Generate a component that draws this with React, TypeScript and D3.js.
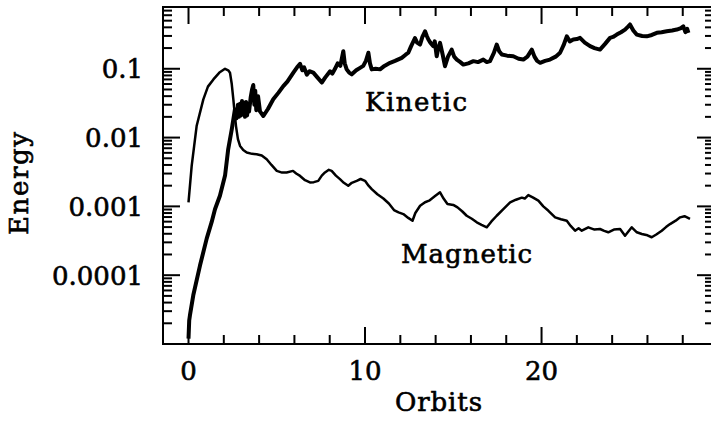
import React from "react";
import * as d3 from "d3";

const kineticOrbits = [0.0,0.04,0.08,0.27,0.65,1.03,1.31,1.5,1.78,2.07,2.25,2.45,2.63,2.72,2.8,2.86,2.92,2.98,3.03,3.09,3.14,3.2,3.26,3.32,3.37,3.43,3.52,3.6,3.67,3.73,3.78,3.84,3.94,4.05,4.24,4.5,4.8,5.1,5.37,5.6,5.94,6.15,6.32,6.45,6.55,6.7,6.85,7.07,7.3,7.55,7.75,8.02,8.15,8.3,8.45,8.6,8.77,8.85,8.96,9.1,9.25,9.5,9.72,9.9,10.05,10.19,10.28,10.38,10.6,10.85,11.1,11.42,11.7,12.08,12.3,12.45,12.6,12.83,12.95,13.12,13.25,13.4,13.5,13.59,13.7,13.87,13.95,14.06,14.15,14.25,14.4,14.53,14.7,14.91,15.05,15.2,15.4,15.57,15.85,16.14,16.4,16.7,16.9,17.08,17.3,17.46,17.6,17.75,18.05,18.4,18.7,18.97,19.2,19.45,19.6,19.75,19.92,20.2,20.48,20.8,21.05,21.25,21.43,21.6,21.8,22.0,22.18,22.45,22.75,23.0,23.31,23.6,23.88,24.05,24.26,24.5,24.73,24.9,25.01,25.2,25.39,25.7,25.96,26.25,26.53,26.8,27.09,27.4,27.66,27.9,28.03,28.15,28.25,28.32];
const kineticEnergy = [1.2e-5,2.2e-5,2.6e-5,5.1e-5,1.38e-4,3.4e-4,5.9e-4,9.1e-4,1.43e-3,2.8e-3,6.8e-3,0.0132,0.0257,0.019,0.03,0.02,0.031,0.021,0.034,0.022,0.032,0.02,0.033,0.021,0.03,0.024,0.038,0.05,0.058,0.03,0.048,0.025,0.04,0.024,0.0206,0.026,0.036,0.045,0.056,0.065,0.088,0.105,0.118,0.095,0.105,0.082,0.092,0.088,0.075,0.063,0.075,0.092,0.085,0.1,0.12,0.11,0.18,0.12,0.098,0.088,0.083,0.095,0.103,0.11,0.13,0.171,0.12,0.098,0.1,0.098,0.11,0.122,0.13,0.144,0.16,0.171,0.21,0.28,0.24,0.225,0.29,0.35,0.3,0.266,0.24,0.213,0.25,0.152,0.2,0.238,0.16,0.109,0.15,0.19,0.15,0.136,0.125,0.115,0.12,0.129,0.125,0.136,0.125,0.129,0.17,0.225,0.18,0.161,0.155,0.152,0.14,0.136,0.15,0.19,0.15,0.13,0.122,0.13,0.136,0.15,0.171,0.22,0.296,0.25,0.266,0.27,0.281,0.24,0.213,0.2,0.19,0.23,0.281,0.29,0.314,0.34,0.371,0.41,0.44,0.36,0.314,0.3,0.296,0.31,0.333,0.34,0.351,0.36,0.371,0.39,0.414,0.34,0.38,0.333];

const magneticOrbits = [0.0,0.18,0.46,0.84,1.1,1.41,1.75,2.07,2.25,2.35,2.45,2.54,2.62,2.69,2.8,2.92,3.1,3.3,3.6,3.86,4.15,4.43,4.7,5.0,5.3,5.56,5.92,6.1,6.32,6.6,6.88,7.1,7.35,7.55,7.73,7.95,8.11,8.35,8.58,8.8,9.05,9.25,9.53,9.75,10.0,10.2,10.38,10.7,11.04,11.35,11.64,11.9,12.17,12.45,12.69,12.85,13.12,13.4,13.63,13.95,14.25,14.45,14.67,15.0,15.24,15.5,15.76,16.05,16.33,16.6,16.9,17.15,17.46,17.85,18.22,18.55,18.88,19.05,19.25,19.5,19.82,20.1,20.39,20.77,21.1,21.43,21.65,21.9,22.1,22.28,22.65,23.0,23.31,23.55,23.78,24.1,24.45,24.73,25.11,25.4,25.68,26.0,26.24,26.5,26.81,27.05,27.28,27.6,27.85,28.1,28.41];
const magneticEnergy = [0.00114,0.00387,0.0147,0.0359,0.055,0.07,0.088,0.1,0.095,0.0875,0.06,0.0359,0.022,0.0147,0.0095,0.00755,0.0066,0.00607,0.0058,0.00573,0.0055,0.00485,0.004,0.00328,0.0031,0.00311,0.00328,0.003,0.00277,0.0024,0.00223,0.00225,0.00235,0.0028,0.00311,0.0034,0.00328,0.0028,0.00249,0.0022,0.00199,0.0022,0.00235,0.0025,0.00235,0.002,0.00178,0.0015,0.0013,0.0011,0.000883,0.00082,0.000773,0.00068,0.000618,0.0008,0.00102,0.00115,0.00121,0.0014,0.0016,0.0013,0.00108,0.00105,0.000967,0.00085,0.000731,0.00066,0.000586,0.00054,0.000496,0.0006,0.000731,0.00092,0.00114,0.00125,0.00134,0.0013,0.00146,0.00135,0.00121,0.001,0.000863,0.000693,0.00065,0.000618,0.00052,0.000443,0.00048,0.000443,0.000496,0.00046,0.000469,0.00044,0.00042,0.00046,0.000469,0.000375,0.000496,0.00042,0.000397,0.00038,0.000356,0.00039,0.000443,0.0005,0.000553,0.00062,0.000693,0.00072,0.00066];

const xMajorTicks = [0, 10, 20];
const xMinorTicks = [2, 4, 6, 8, 12, 14, 16, 18, 22, 24, 26, 28];
const yMajorTicks = [0.0001, 0.001, 0.01, 0.1];
const yTickLabels = ["0.0001", "0.001", "0.01", "0.1"];
const xTickLabels = ["0", "10", "20"];

const W = 711, H = 421;
const L = 163, R = 714, T = 7, B = 344;
const FONT = "'DejaVu Serif', serif";

export default function App() {
  const x = d3.scaleLinear().domain([-1.445, 29.77]).range([L, R]);
  const y = d3.scaleLog().domain([1e-5, 0.79]).range([B, T]);

  const line = d3.line<[number, number]>().x(d => x(d[0])).y(d => y(d[1]));
  const kin: [number, number][] = kineticOrbits.map((o, i) => [o, kineticEnergy[i]]);
  const mag: [number, number][] = magneticOrbits.map((o, i) => [o, magneticEnergy[i]]);

  const yMinor: number[] = [];
  for (let e = -5; e <= -1; e++) {
    for (let m = 2; m <= 9; m++) {
      const v = m * Math.pow(10, e);
      if (v < 0.79) yMinor.push(v);
    }
  }
  const majLen = 17, minLen = 9;

  return (
    <svg width={W} height={H} style={{ position: "absolute", left: 0, top: 0, background: "#fff" }}>
      <rect x={0} y={0} width={W} height={H} fill="#fff" />
      <g stroke="#000" strokeWidth={2} fill="none">
        <rect x={L} y={T} width={R - L} height={B - T} />
        {xMajorTicks.map(t => (
          <g key={"xm" + t}>
            <line x1={x(t)} x2={x(t)} y1={B} y2={B - majLen} />
            <line x1={x(t)} x2={x(t)} y1={T} y2={T + majLen} />
          </g>
        ))}
        {xMinorTicks.map(t => (
          <g key={"xn" + t}>
            <line x1={x(t)} x2={x(t)} y1={B} y2={B - minLen} />
            <line x1={x(t)} x2={x(t)} y1={T} y2={T + minLen} />
          </g>
        ))}
        {yMajorTicks.map(t => (
          <g key={"ym" + t}>
            <line x1={L} x2={L + majLen} y1={y(t)} y2={y(t)} />
            <line x1={R} x2={R - majLen} y1={y(t)} y2={y(t)} />
          </g>
        ))}
        {yMinor.map(t => (
          <g key={"yn" + t}>
            <line x1={L} x2={L + minLen} y1={y(t)} y2={y(t)} />
            <line x1={R} x2={R - minLen} y1={y(t)} y2={y(t)} />
          </g>
        ))}
      </g>
      <path d={line(mag) || ""} fill="none" stroke="#000" strokeWidth={2.5} strokeLinejoin="round" />
      <path d={line(kin) || ""} fill="none" stroke="#000" strokeWidth={4} strokeLinejoin="round" />
      <g fontFamily={FONT} fontWeight="normal" fontSize={26} fill="#000" stroke="#000" strokeWidth={0.6}>
        {yMajorTicks.map((t, i) => (
          <text key={"yl" + t} x={143} y={y(t)} dy="0.36em" textAnchor="end">{yTickLabels[i]}</text>
        ))}
        {xMajorTicks.map((t, i) => (
          <text key={"xl" + t} x={x(t)} y={380} textAnchor="middle">{xTickLabels[i]}</text>
        ))}
        <text x={395} y={411} textLength={87} lengthAdjust="spacing">Orbits</text>
        <text transform="translate(28,235) rotate(-90)" textLength={103} lengthAdjust="spacing">Energy</text>
        <text x={365} y={110.5} textLength={102} lengthAdjust="spacing">Kinetic</text>
        <text x={401} y={263} textLength={131} lengthAdjust="spacing">Magnetic</text>
      </g>
    </svg>
  );
}
